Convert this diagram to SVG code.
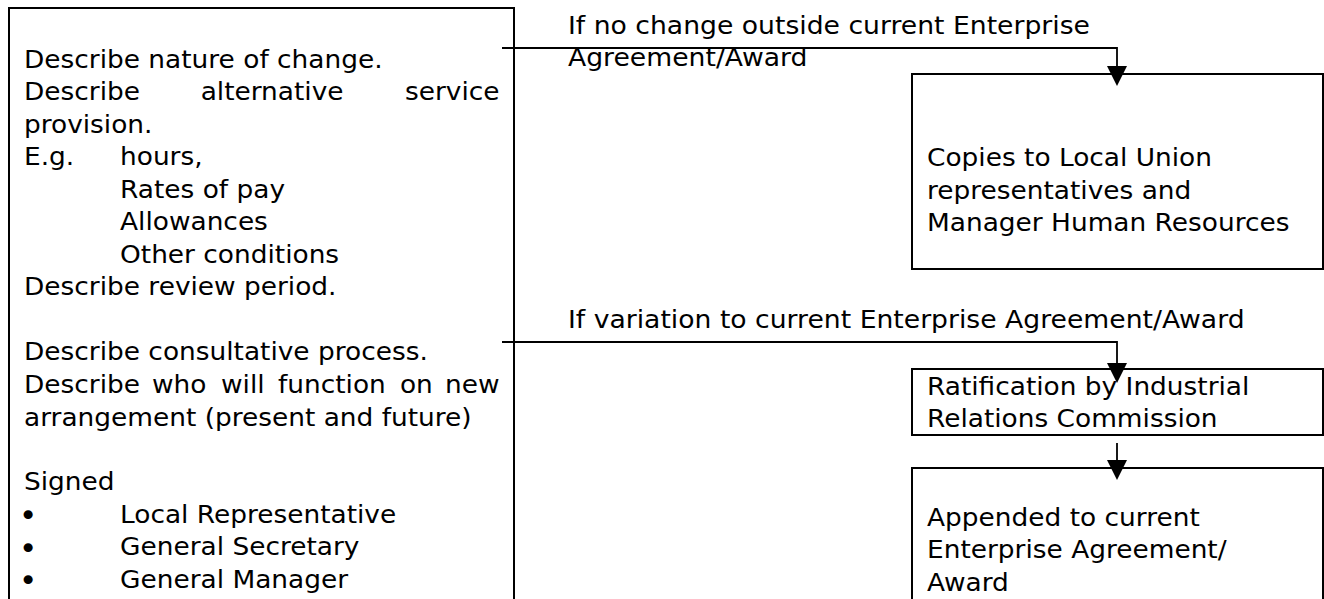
<svg xmlns="http://www.w3.org/2000/svg" width="1324" height="599" viewBox="0 0 1324 599">
<style>
.t{font-family:"DejaVu Sans",Verdana,sans-serif;font-size:24px;fill:#000}
.b{font-family:"DejaVu Sans",Verdana,sans-serif;font-size:31px;fill:#000}
.box{fill:#fff;stroke:#000;stroke-width:2}
.con{fill:none;stroke:#000;stroke-width:1.8}
</style>
<defs>
<marker id="ah" viewBox="0 0 20 20" refX="14" refY="10" markerWidth="20" markerHeight="20" markerUnits="userSpaceOnUse" orient="auto">
<path d="M0,0 L20,10 L0,20 z" fill="#000"/>
</marker>
</defs>
<rect width="1324" height="599" fill="#fff"/>
<g id="proposal">
<rect class="box" x="9" y="8" width="505" height="600"/>
<g transform="translate(24 0) scale(1.1 1)">
<text class="t" x="0" y="68">Describe nature of change.</text>
<text class="t" y="100.5"><tspan x="0">Describe</tspan><tspan x="160.6">alternative</tspan><tspan x="346.4">service</tspan></text>
<text class="t" x="0" y="133">provision.</text>
<text class="t" y="165.5"><tspan x="0">E.g.</tspan><tspan x="87.3">hours,</tspan></text>
<text class="t" x="87.3" y="198">Rates of pay</text>
<text class="t" x="87.3" y="230.5">Allowances</text>
<text class="t" x="87.3" y="263">Other conditions</text>
<text class="t" x="0" y="295.5">Describe review period.</text>
<text class="t" x="0" y="360.5">Describe consultative process.</text>
<text class="t" y="393"><tspan x="0">Describe</tspan><tspan x="116.4">who</tspan><tspan x="179.1">will</tspan><tspan x="230.9">function</tspan><tspan x="341.8">on</tspan><tspan x="382.7">new</tspan></text>
<text class="t" x="0" y="425.5">arrangement (present and future)</text>
<text class="t" x="0" y="490.5">Signed</text>
<text class="t" x="87.3" y="523">Local Representative</text>
<text class="t" x="87.3" y="555.5">General Secretary</text>
<text class="t" x="87.3" y="588">General Manager</text>
</g>
<text class="b" x="19" y="526">•</text>
<text class="b" x="19" y="558.5">•</text>
<text class="b" x="19" y="591">•</text>
</g>
<g id="copies">
<rect class="box" x="912" y="74" width="411" height="195"/>
<g transform="translate(927 0) scale(1.1 1)">
<text class="t" x="0" y="166.5">Copies to Local Union</text>
<text class="t" x="0" y="199">representatives and</text>
<text class="t" x="0" y="231.5">Manager Human Resources</text>
</g>
</g>
<g id="ratification">
<rect class="box" x="912" y="369" width="411" height="66"/>
<g transform="translate(927 0) scale(1.1 1)">
<text class="t" x="0" y="395">Ratification by Industrial</text>
<text class="t" x="0" y="427.5">Relations Commission</text>
</g>
</g>
<g id="appended">
<rect class="box" x="912" y="468" width="411" height="140"/>
<g transform="translate(927 0) scale(1.1 1)">
<text class="t" x="0" y="526">Appended to current</text>
<text class="t" x="0" y="558.5">Enterprise Agreement/</text>
<text class="t" x="0" y="591">Award</text>
</g>
</g>
<g id="connectors">
<polyline class="con" points="502,48 1117,48 1117,80" marker-end="url(#ah)"/>
<polyline class="con" points="502,342 1117,342 1117,377" marker-end="url(#ah)"/>
<line class="con" x1="1117" y1="443" x2="1117" y2="474" marker-end="url(#ah)"/>
<g transform="translate(568 0) scale(1.11 1)">
<text class="t" x="0" y="34">If no change outside current Enterprise</text>
<text class="t" x="0" y="66">Agreement/Award</text>
<text class="t" x="0" y="328">If variation to current Enterprise Agreement/Award</text>
</g>
</g>
</svg>
